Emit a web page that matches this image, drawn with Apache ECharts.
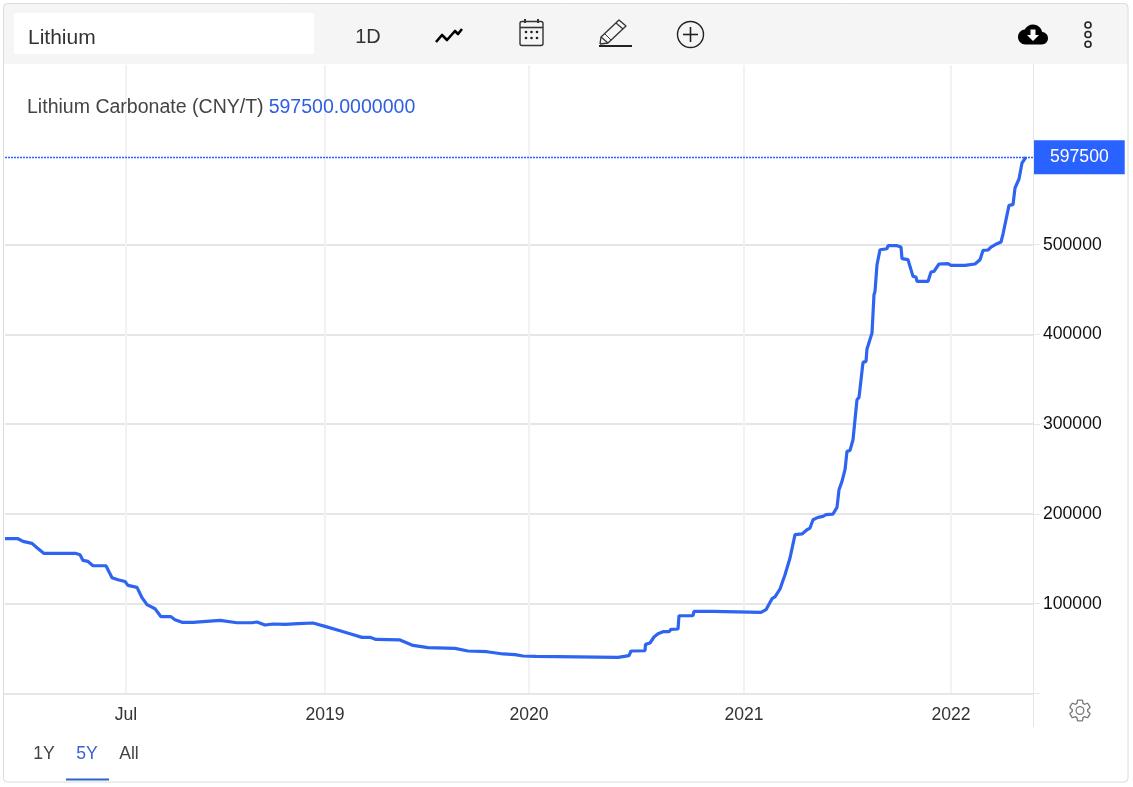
<!DOCTYPE html>
<html><head><meta charset="utf-8">
<style>html,body{margin:0;padding:0;background:#fff}#c{width:1133px;height:787px}</style>
<script src="https://cdn.jsdelivr.net/npm/echarts@6/dist/echarts.min.js"></script>
</head><body><div id="c"></div>
<script>
const seriesName = 'Lithium Carbonate (CNY/T)';
const lastPrice = 597500;
const tickSessions = [121, 320, 524, 739, 946];
const tickLabels = ['Jul', '2019', '2020', '2021', '2022'];
const priceTicks = [100000, 200000, 300000, 400000, 500000];
const sessions = [
0,13,18,27,32,39,71,75,78,83,
88,101,104,107,113,120,123,132,137,142,
150,156,166,170,177,188,190,215,232,247,
252,260,268,280,293,308,320,335,345,357,
365,371,395,408,423,450,463,482,498,510,
518,531,532,613,614,624,626,640,640.5,645,
649,653,658,664,666,673,674,688,689,708,
710,756,758,761,767,770,775,780,785,790,
797,802,805,808,813,818,821,828,832,834,
837,840,842,845,848,852,854,858,861,862,
864,867,869,870,872,875,882,883,892,896,
897,903,908,911,912,923,926,929,934,943,
946,960,962,970,975,978,983,986,992,996,
998,1000,1004,1008,1009,1010,1014,1017,1021];
const prices = [
172400,172400,169400,167200,162400,156000,156000,154600,148200,147100,
142300,142300,135600,129000,126700,124800,120400,118200,106700,98900,
94400,85500,85500,82200,79200,79200,81400,81400,78800,78800,
79600,76300,77400,76900,77700,78500,74700,69900,66600,62500,
62500,60200,59600,53500,51000,50200,47300,46500,44000,43200,
41700,41300,40200,40200,42100,42100,47300,47600,54700,56200,
62900,66600,68800,68800,71400,71800,86600,86600,91400,91400,
90300,90300,92500,93300,105600,107500,116400,132300,150900,176900,
177700,182400,184300,193600,196200,197300,199200,199900,207300,227000,
236300,249300,269700,270800,282700,327300,329900,368900,370000,383800,
384900,401600,444300,448000,477700,494400,495500,498900,498900,497400,
484400,483300,464700,464000,459100,459100,469600,470300,478500,478900,
476900,476900,478500,478500,483300,493600,494100,497400,501100,503000,
511900,513000,543800,544600,553800,563200,573200,591000,597500];
const points = sessions.map((s, i) => [s, prices[i]]);

const LINE = '#2d64f0', BLUE = '#2962ff', FONT = '"Liberation Sans", Arial, sans-serif';
echarts.graphic.registerShape('cloudIcon', echarts.graphic.extendPath('M19.35 10.04C18.67 6.59 15.64 4 12 4 9.11 4 6.6 5.64 5.35 8.04 2.34 8.36 0 10.91 0 14c0 3.31 2.69 6 6 6h13c2.76 0 5-2.24 5-5 0-2.64-2.05-4.78-4.65-4.96z', {}));
echarts.graphic.registerShape('gearIcon', echarts.graphic.extendPath('M19.14 12.94c.04-.3.06-.61.06-.94 0-.32-.02-.64-.07-.94l2.03-1.58c.18-.14.23-.41.12-.61l-1.92-3.32c-.12-.22-.37-.29-.59-.22l-2.39.96c-.5-.38-1.03-.7-1.62-.94l-.36-2.54c-.04-.24-.24-.41-.48-.41h-3.84c-.24 0-.43.17-.47.41l-.36 2.54c-.59.24-1.13.57-1.62.94l-2.39-.96c-.22-.08-.47 0-.59.22L2.74 8.87c-.12.21-.08.47.12.61l2.03 1.58c-.05.3-.09.63-.09.94s.02.64.07.94l-2.03 1.58c-.18.14-.23.41-.12.61l1.92 3.32c.12.22.37.29.59.22l2.39-.96c.5.38 1.03.7 1.62.94l.36 2.54c.05.24.24.41.48.41h3.84c.24 0 .44-.17.47-.41l.36-2.54c.59-.24 1.13-.56 1.62-.94l2.39.96c.22.08.47 0 .59-.22l1.92-3.32c.12-.22.07-.47-.12-.61l-2.01-1.58zM12 15.6c-1.98 0-3.6-1.62-3.6-3.6s1.62-3.6 3.6-3.6 3.6 1.62 3.6 3.6-1.62 3.6-3.6 3.6z', {}));
const txt = (x, y, text, size, fill, align) => ({type:'text', z:20, x, y, style:{text, fontSize:size, fontFamily:FONT, fill, textAlign:align||'left', textVerticalAlign:'middle'}});
const ln = (x1,y1,x2,y2,stroke,w) => ({type:'line', z:20, shape:{x1,y1,x2,y2}, style:{stroke, lineWidth:w}});
const poly = (points, stroke, w) => ({type:'polyline', z:20, shape:{points}, style:{stroke, lineWidth:w, fill:null, lineJoin:'round'}});
const dot = (cx,cy,r,o) => ({type:'circle', z:20, shape:{cx,cy,r}, style:o});
const calDots = [];
[526,531.5,537].forEach(x => [32,38].forEach(y => calDots.push(dot(x,y,1.3,{fill:'#222'}))));

const graphics = [
  {type:'rect', z:19, shape:{x:4,y:4,width:1124,height:60}, style:{fill:'#f5f5f5'}},
  {type:'rect', z:20, shape:{x:14,y:13,width:300,height:41,r:2}, style:{fill:'#fff'}},
  {type:'rect', z:21, shape:{x:3.5,y:3.5,width:1124.5,height:778.5,r:4}, style:{fill:null,stroke:'#dcdcdc',lineWidth:1}},
  txt(28,38,'Lithium',21,'#333'),
  txt(368,37,'1D',20,'#333','center'),
  poly([[436,42],[442,35],[447,40],[455,31],[458,34],[462,29]],'#000',2.6),
  {type:'rect', z:20, shape:{x:520,y:21.5,width:23,height:24,r:2}, style:{fill:null,stroke:'#333',lineWidth:1.4}},
  ln(520,27.5,543,27.5,'#333',1.6),
  ln(525,19,525,23,'#333',2), ln(538,19,538,23,'#333',2),
  ...calDots,
  poly([[600,44],[601,37],[619,20],[626,26],[608,43],[600,44]],'#333',1.3),
  ln(601,37,608,43,'#333',1.2), ln(604.5,33.5,611,40,'#333',1), ln(616,23,623,29,'#333',1.2),
  ln(599,46,632,46,'#222',1.8),
  dot(690.5,34.5,13,{fill:'none',stroke:'#222',lineWidth:1.4}),
  ln(690.5,27,690.5,42,'#222',1.6), ln(683,34.5,698,34.5,'#222',1.6),
  {type:'cloudIcon', z:20, x:1018, y:19.5, scaleX:1.25, scaleY:1.25, style:{fill:'#000'}},
  {type:'polygon', z:20, shape:{points:[[1030.5,29.5],[1035.5,29.5],[1035.5,35],[1039,35],[1033,41],[1027,35],[1030.5,35]]}, style:{fill:'#fff'}},
  dot(1088,25,3,{fill:'none',stroke:'#222',lineWidth:1.6}),
  dot(1088,34.5,3,{fill:'none',stroke:'#222',lineWidth:1.6}),
  dot(1088,44.3,3,{fill:'none',stroke:'#222',lineWidth:1.6}),
  ln(1033.5,64,1033.5,727,'#e6e6e6',1),
  {type:'gearIcon', z:20, x:1067, y:697.5, scaleX:1.08, scaleY:1.08, style:{fill:'none',stroke:'#777',lineWidth:1.2}},
  txt(44,754,'1Y',17.6,'#444','center'),
  txt(87,754,'5Y',17.6,'#3f5fd0','center'),
  txt(129,754,'All',17.6,'#444','center'),
  ln(66,779.5,109,779.5,'#2d64c8',2)
];

const chart = echarts.init(document.getElementById('c'), null, {renderer:'canvas'});
chart.setOption({
  animation:false,
  backgroundColor:'#fff',
  title:{left:27, top:98, padding:0, text:'{a|'+seriesName+'} {b|'+lastPrice.toFixed(7)+'}',
    textStyle:{fontWeight:'normal', rich:{a:{fontSize:19.55,color:'#444',fontFamily:FONT,fontWeight:'normal'}, b:{fontSize:19.55,color:'#2f5fe0',fontFamily:FONT,fontWeight:'normal'}}}},
  grid:{left:5, right:100, top:65.2, bottom:93.55, containLabel:false},
  xAxis:{type:'value', min:0, max:1028,
    axisLine:{show:true,onZero:false,lineStyle:{color:'#e6e6e6',width:2}},
    axisTick:{show:false, customValues:tickSessions},
    splitLine:{show:true,lineStyle:{color:'#f2f2f2',width:2}},
    axisLabel:{customValues:tickSessions, margin:13, fontSize:17.6, color:'#333', fontFamily:FONT,
      formatter:v => tickLabels[tickSessions.indexOf(v)] || ''}},
  yAxis:{type:'value', position:'right', min:0, max:700000, interval:100000,
    axisLine:{show:false,onZero:false},
    axisTick:{show:true,length:7,customValues:[0].concat(priceTicks),lineStyle:{color:'#e6e6e6'}},
    splitLine:{show:true,showMinLine:false,lineStyle:{color:'#e6e6e6',width:2}},
    axisLabel:{customValues:priceTicks, margin:10, fontSize:17.6, color:'#111', fontFamily:FONT, formatter:v => String(v)}},
  series:[{type:'line', name:seriesName, data:points, showSymbol:false, smooth:false,
    lineStyle:{color:LINE,width:3.2}, itemStyle:{color:LINE}, clip:true,
    markLine:{silent:true, symbol:'none', animation:false,
      data:[{yAxis:lastPrice}],
      lineStyle:{color:BLUE,type:[2,1],width:1.4},
      label:{show:true, position:'end', distance:1, formatter:String(lastPrice), color:'#fff', fontSize:17.6, fontFamily:FONT,
        backgroundColor:BLUE, padding:[8,16,8,16], lineHeight:18, align:'left', verticalAlign:'middle'}}}],
  graphic:graphics
});
</script></body></html>
